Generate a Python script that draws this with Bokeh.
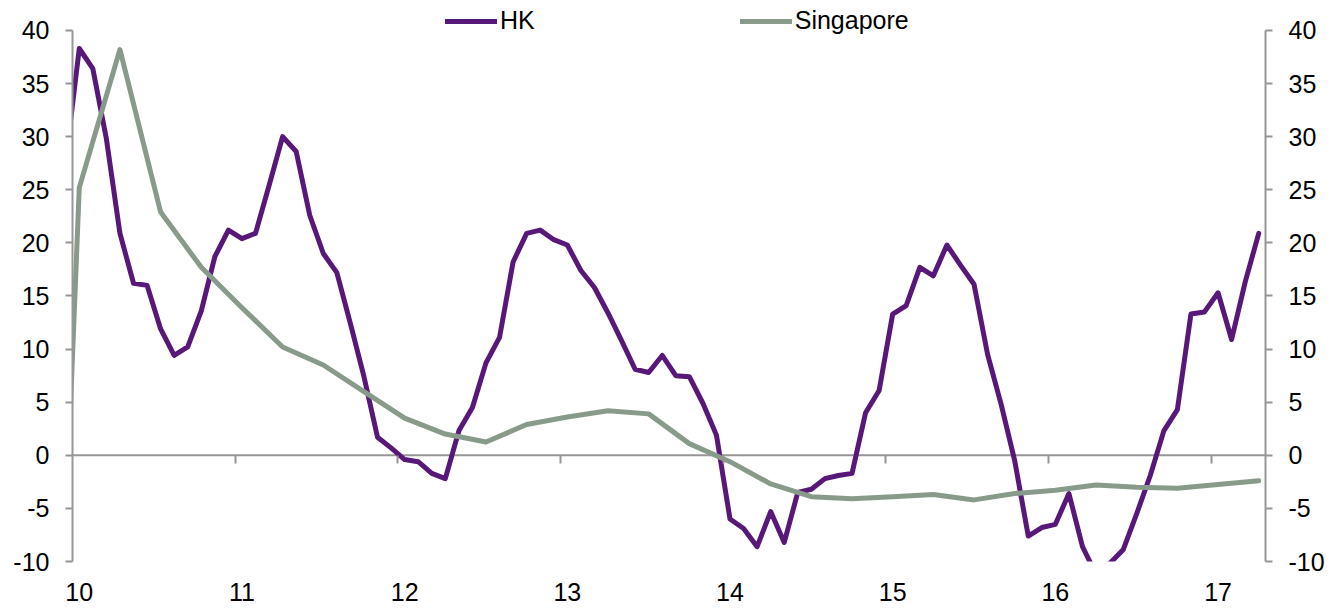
from bokeh.plotting import figure
from bokeh.models import (Range1d, LinearAxis, FixedTicker, Span, Legend,
                          LegendItem, CustomJSTickFormatter)
from bokeh.embed import file_html
from bokeh.resources import INLINE

# ---- data (monthly HK from Dec-2009, Singapore mostly quarterly) ----
hk_start_month = -1          # month index relative to Jan 2010
hk_values = [27.7, 38.3, 36.4, 29.8, 20.9, 16.2, 16.0, 11.9, 9.4, 10.2, 13.6, 18.7,
             21.2, 20.4, 20.9, 25.4, 30.0, 28.6, 22.6, 19.0, 17.2, 12.4, 7.4, 1.7,
             0.7, -0.4, -0.6, -1.7, -2.2, 2.3, 4.5, 8.7, 11.1, 18.2, 20.9, 21.2,
             20.3, 19.8, 17.4, 15.8, 13.4, 10.8, 8.1, 7.8, 9.4, 7.5, 7.4, 4.9,
             1.9, -6.0, -6.9, -8.6, -5.3, -8.2, -3.5, -3.2, -2.2, -1.9, -1.7, 4.0,
             6.1, 13.3, 14.1, 17.7, 16.9, 19.8, 17.9, 16.1, 9.5, 4.8, -0.5, -7.6,
             -6.8, -6.5, -3.6, -8.6, -11.2, -10.2, -8.9, -5.5, -1.9, 2.3, 4.3, 13.3,
             13.5, 15.3, 10.9, 16.3, 20.9]

sg_months = [-1, 0, 3, 6, 9, 12, 15, 18, 21, 24, 27, 30, 33, 36, 39, 42, 45,
             48, 51, 54, 57, 60, 63, 66, 69, 72, 75, 78, 81, 84, 87]
sg_values = [-6.5, 25.2, 38.2, 22.9, 17.7, 13.9, 10.2, 8.5, 6.0, 3.5, 2.0, 1.25,
             2.9, 3.6, 4.2, 3.9, 1.1, -0.6, -2.7, -3.9, -4.1, -3.9, -3.7, -4.2,
             -3.6, -3.3, -2.8, -3.0, -3.1, -2.75, -2.4]

label_years = [10, 11, 12, 13, 14, 15, 16, 17]
tick_labels = ["10", "11", "12", "13", "14", "15", "16", "17"]
year_ticks = [11, 12, 13, 14, 15, 16, 17]
y_ticks = [-10, -5, 0, 5, 10, 15, 20, 25, 30, 35, 40]
Y_MIN, Y_MAX = -10, 40
Y_TOP = 42.82          # headroom above the axis so the legend sits in the frame

PURPLE = "#57187A"
GREEN = "#889B8A"
GRAY = "#969696"
FONT = "Liberation Sans"
FSIZE = "25px"


def month_to_x(m):
    return 10 + (m + 0.5) / 12.0


hk_x = [month_to_x(hk_start_month + i) for i in range(len(hk_values))]
sg_x = [month_to_x(m) for m in sg_months]

p = figure(width=1333, height=608,
           x_range=Range1d(10, 17 + 4 / 12.0), y_range=Range1d(Y_MIN, Y_TOP),
           output_backend="svg", toolbar_location=None,
           min_border_left=72, min_border_right=68,
           min_border_top=0, min_border_bottom=47)
p.grid.visible = False
p.outline_line_color = None
p.background_fill_color = "white"

p.add_layout(Span(location=0, dimension="width", line_color=GRAY,
                  line_width=2, level="underlay"))

hk = p.line(hk_x, hk_values, line_color=PURPLE, line_width=5,
            line_cap="round", line_join="round")
sg = p.line(sg_x, sg_values, line_color=GREEN, line_width=5,
            line_cap="round", line_join="round")


def style_y(ax):
    ax.ticker = FixedTicker(ticks=y_ticks)
    ax.formatter = CustomJSTickFormatter(code="return String(Math.round(tick));")
    ax.bounds = (Y_MIN, Y_MAX)
    ax.axis_line_color = GRAY
    ax.axis_line_width = 2
    ax.major_tick_line_color = GRAY
    ax.major_tick_line_width = 2
    ax.major_tick_out = 7
    ax.major_tick_in = 0
    ax.minor_tick_out = 0
    ax.minor_tick_in = 0
    ax.major_label_standoff = 16
    ax.major_label_text_font = FONT
    ax.major_label_text_font_size = FSIZE
    ax.major_label_text_color = "black"


style_y(p.yaxis[0])
right_axis = LinearAxis()
style_y(right_axis)
p.add_layout(right_axis, "right")

# x labels (centered on January of each year)
xa = p.xaxis[0]
xa.ticker = FixedTicker(ticks=[month_to_x((y - 10) * 12) for y in label_years])
xa.formatter = CustomJSTickFormatter(args=dict(labels=tick_labels),
                                     code="return labels[Math.floor(tick) - 10];")
xa.axis_line_alpha = 0
xa.major_tick_out = 0
xa.major_tick_in = 0
xa.minor_tick_out = 0
xa.minor_tick_in = 0
xa.major_label_standoff = 21
xa.major_label_text_font = FONT
xa.major_label_text_font_size = FSIZE
xa.major_label_text_color = "black"

# tick marks at year boundaries on the zero line
tick_axis = LinearAxis(fixed_location=0, ticker=FixedTicker(ticks=year_ticks))
tick_axis.axis_line_alpha = 0
tick_axis.major_tick_out = 8
tick_axis.major_tick_in = 0
tick_axis.minor_tick_out = 0
tick_axis.minor_tick_in = 0
tick_axis.major_tick_line_color = GRAY
tick_axis.major_tick_line_width = 2
tick_axis.major_label_text_alpha = 0
tick_axis.major_label_text_font_size = "1px"
p.add_layout(tick_axis, "below")

legend = Legend(items=[LegendItem(label="HK", renderers=[hk]),
                       LegendItem(label="Singapore", renderers=[sg])],
                orientation="horizontal", location=(373, 526),
                padding=0, margin=0, spacing=205,
                glyph_width=52, glyph_height=24, label_height=24,
                label_standoff=3, border_line_color=None,
                background_fill_alpha=0,
                label_text_font=FONT, label_text_font_size=FSIZE,
                label_text_color="black")
p.add_layout(legend)

open("out.html", "w").write(file_html(p, INLINE))
